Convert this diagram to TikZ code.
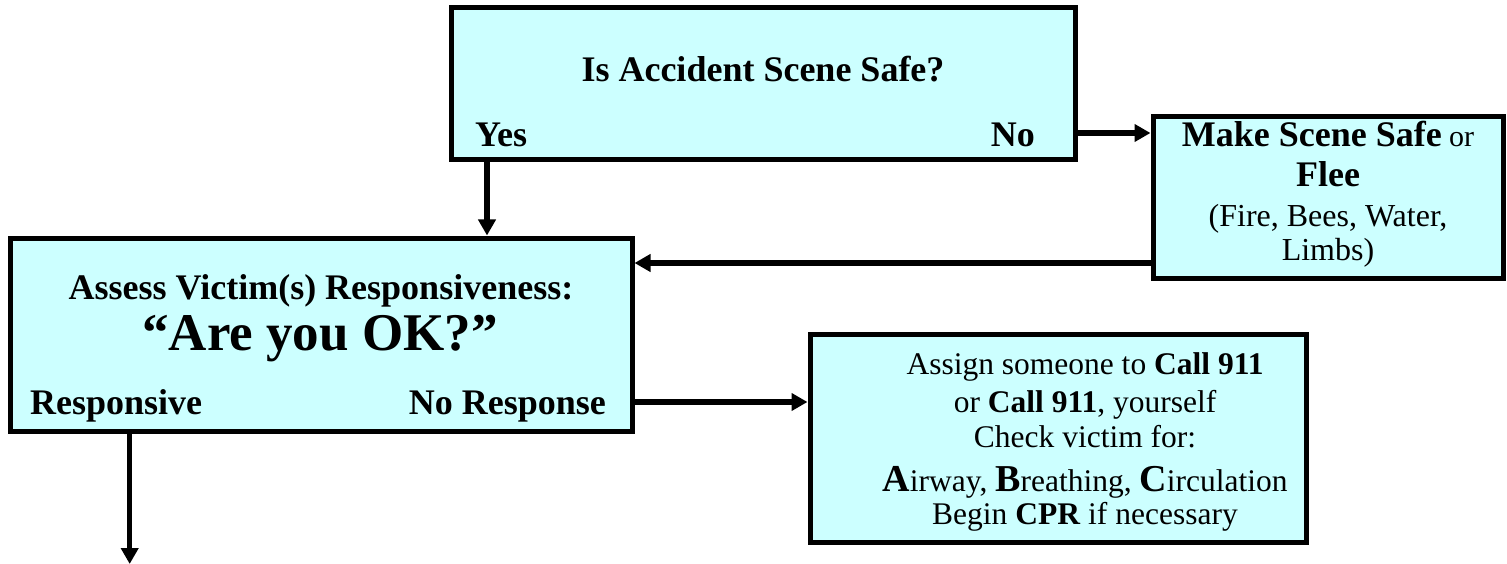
\documentclass[tikz,border=0pt]{standalone}
\usepackage{fontspec}
\setmainfont{Liberation Serif}
\usetikzlibrary{arrows.meta}
\definecolor{boxfill}{RGB}{204,255,255}
\newcommand{\fs}[1]{\fontsize{#1}{#1}\selectfont}
\begin{document}
\begin{tikzpicture}[x=1pt,y=-1pt,
  box/.style={draw=black, line width=5pt, fill=boxfill, rectangle, inner sep=0pt},
  conn/.style={line width=5.5pt, -{Triangle[length=16pt,width=17pt]}},
  txt/.style={anchor=base, inner sep=0pt},
  hd/.style={txt, font=\bfseries\fs{36}},
  body/.style={txt, font=\fs{31.5}}]
\useasboundingbox (0,0) rectangle (1507,564);
% boxes
\node[box, minimum width=623.5pt, minimum height=152.5pt] (b1) at (763.25,83.75) {};
\node[box, minimum width=350pt, minimum height=161pt] (b2) at (1328,197.5) {};
\node[box, minimum width=622pt, minimum height=193pt] (b3) at (321,334.5) {};
\node[box, minimum width=496pt, minimum height=208pt] (b4) at (1058,438) {};
% box 1 texts
\node[hd] (t1) at (763,82) {Is Accident Scene Safe?};
\node[hd, anchor=base west] (yes) at (475,147) {Yes};
\node[hd, anchor=base east] (no) at (1035,147) {No};
% box 2 texts
\node[txt] (t2a) at (1328,147) {\bfseries\fs{36}Make Scene Safe\fs{30}\mdseries{} or};
\node[hd] (t2b) at (1328,187) {Flee};
\node[txt, font=\fs{32}] (t2c) at (1328,226) {(Fire, Bees, Water,};
\node[txt, font=\fs{32}] (t2d) at (1328,260) {Limbs)};
% box 3 texts
\node[hd] (t3a) at (321,299) {Assess Victim(s) Responsiveness:};
\node[txt, font=\bfseries\fs{53}] (t3b) at (320,350) {“Are you OK?”};
\node[hd, anchor=base west] (resp) at (30,414) {Responsive};
\node[hd, anchor=base east] (noresp) at (606,414) {No Response};
% box 4 texts
\node[body] (t4a) at (1085,374) {Assign someone to \textbf{Call 911}};
\node[body] (t4b) at (1085,412) {or \textbf{Call 911}, yourself};
\node[body] (t4c) at (1085,447) {Check victim for:};
\node[body] (t4d) at (1085,491) {{\bfseries\fs{38}A}irway, {\bfseries\fs{38}B}reathing, {\bfseries\fs{38}C}irculation};
\node[body] (t4e) at (1085,524) {Begin \textbf{CPR} if necessary};
% connectors
\coordinate (pyes) at (487,0);
\coordinate (pno) at (0,133);
\coordinate (pback) at (0,263);
\coordinate (pnr) at (0,402);
\coordinate (out) at (129.7,564);
\draw[conn] (b1.south -| pyes) -- (b3.north -| pyes);
\draw[conn] (b1.east |- pno) -- (b2.west |- pno);
\draw[conn] (b2.west |- pback) -- (b3.east |- pback);
\draw[conn] (b3.east |- pnr) -- (b4.west |- pnr);
\draw[conn] (b3.south -| out) -- (out);
\end{tikzpicture}
\end{document}
